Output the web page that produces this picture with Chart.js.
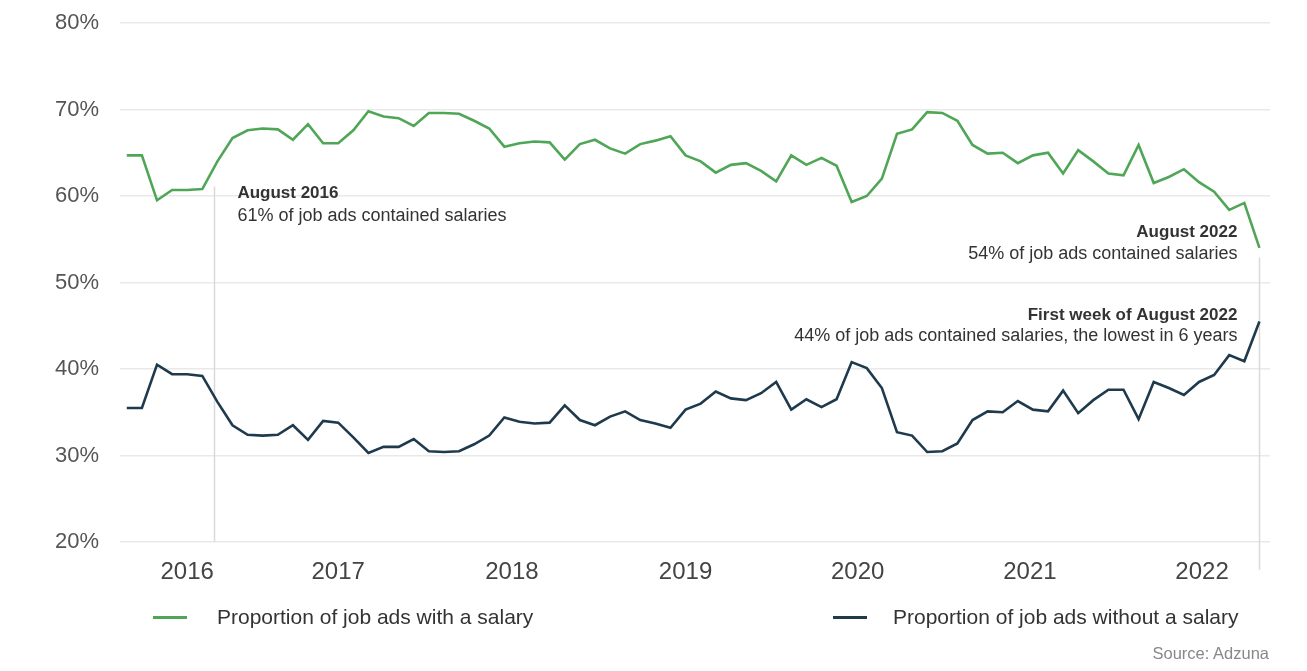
<!DOCTYPE html>
<html lang="en">
<head>
<meta charset="UTF-8">
<title>Job ads with and without a salary</title>
<script src="https://cdn.jsdelivr.net/npm/chart.js"></script>
<style>
  body { margin: 0; background: #fff; font-family: "Liberation Sans", Arial, sans-serif; }
  #wrap { position: relative; width: 1307px; height: 671px; }
  #salaryChart { position: absolute; left: 0; top: 0; }
  .swatch { position: absolute; top: 616px; width: 34px; height: 3px; }
  .legend-text { position: absolute; top: 605px; font-size: 21px; color: #333; white-space: nowrap; }
  #source { position: absolute; right: 38px; top: 644px; font-size: 16.5px; color: #888; }
</style>
</head>
<body>
<div id="wrap">
  <canvas id="salaryChart" width="1307" height="671"></canvas>
  <div class="swatch" style="left:153px; background:#4fa657;"></div>
  <div class="legend-text" style="left:217px;">Proportion of job ads with a salary</div>
  <div class="swatch" style="left:833px; background:#1f3a4c;"></div>
  <div class="legend-text" style="left:893px;">Proportion of job ads without a salary</div>
  <div id="source">Source: Adzuna</div>
</div>

<script>
  // monthly share of job ads, in percent
  const withSalary = [
    64.7, 64.7, 59.5, 60.7, 60.7, 60.8, 64.0, 66.7, 67.6, 67.8,
    67.7, 66.5, 68.3, 66.1, 66.1, 67.6, 69.8, 69.2, 69.0, 68.1,
    69.6, 69.6, 69.5, 68.7, 67.8, 65.7, 66.1, 66.3, 66.2, 64.2,
    66.0, 66.5, 65.5, 64.9, 66.0, 66.4, 66.9, 64.7, 64.0, 62.7,
    63.6, 63.8, 62.9, 61.7, 64.7, 63.6, 64.4, 63.5, 59.3, 60.0,
    62.0, 67.2, 67.7, 69.7, 69.6, 68.7, 65.9, 64.9, 65.0, 63.8,
    64.7, 65.0, 62.6, 65.3, 64.0, 62.6, 62.4, 65.9, 61.5, 62.2,
    63.1, 61.6, 60.5, 58.4, 59.2, 54.0
  ];
  const withoutSalary = [
    35.5, 35.5, 40.5, 39.4, 39.4, 39.2, 36.2, 33.5, 32.4, 32.3,
    32.4, 33.5, 31.8, 34.0, 33.8, 32.1, 30.3, 31.0, 31.0, 31.9,
    30.5, 30.4, 30.5, 31.3, 32.3, 34.4, 33.9, 33.7, 33.8, 35.8,
    34.1, 33.5, 34.5, 35.1, 34.1, 33.7, 33.2, 35.3, 36.0, 37.4,
    36.6, 36.4, 37.2, 38.5, 35.3, 36.5, 35.6, 36.5, 40.8, 40.1,
    37.8, 32.7, 32.3, 30.4, 30.5, 31.4, 34.1, 35.1, 35.0, 36.3,
    35.3, 35.1, 37.5, 34.9, 36.4, 37.6, 37.6, 34.2, 38.5, 37.8,
    37.0, 38.5, 39.3, 41.6, 40.9, 45.5
  ];

  // where each year label sits along the month index
  const yearTickPos = [4.0, 14.0, 25.5, 37.0, 48.4, 59.8, 71.2];
  const yearLabels = ['2016', '2017', '2018', '2019', '2020', '2021', '2022'];
  const percentTicks = [20, 30, 40, 50, 60, 70, 80];

  const GREEN = '#4fa657';
  const NAVY = '#1f3a4c';

  // callout lines and their notes
  const callouts = [
    { at: 5.8, from: 61.1, to: 20, side: 'right', lines: [
      { y: 60.35, bold: true, text: 'August 2016' },
      { y: 57.7, bold: false, text: '61% of job ads contained salaries' }
    ]},
    { at: 75, from: 52.9, to: 16.8, side: 'left', lines: [
      { y: 55.85, bold: true, text: 'August 2022' },
      { y: 53.3, bold: false, text: '54% of job ads contained salaries' },
      { y: 46.25, bold: true, text: 'First week of August 2022' },
      { y: 43.8, bold: false, text: '44% of job ads contained salaries, the lowest in 6 years' }
    ]}
  ];

  const calloutPlugin = {
    id: 'callouts',
    beforeDatasetsDraw(chart) {
      const { ctx, scales: { x, y } } = chart;
      ctx.save();
      ctx.strokeStyle = '#d9d9d9';
      ctx.lineWidth = 1.5;
      callouts.forEach(c => {
        const px = Math.round(x.getPixelForValue(c.at)) + 0.5;
        ctx.beginPath();
        ctx.moveTo(px, y.getPixelForValue(c.from));
        ctx.lineTo(px, y.getPixelForValue(c.to));
        ctx.stroke();
      });
      ctx.restore();
    },
    afterDatasetsDraw(chart) {
      const { ctx, scales: { x, y } } = chart;
      ctx.save();
      ctx.fillStyle = '#333';
      ctx.textBaseline = 'middle';
      callouts.forEach(c => {
        const px = x.getPixelForValue(c.at);
        ctx.textAlign = c.side === 'right' ? 'left' : 'right';
        const tx = c.side === 'right' ? px + 23 : px - 22;
        c.lines.forEach(l => {
          ctx.font = (l.bold ? 'bold 17px' : '18px') + ' "Liberation Sans", Arial, sans-serif';
          ctx.fillText(l.text, tx, y.getPixelForValue(l.y));
        });
      });
      ctx.restore();
    }
  };

  const toPoints = arr => arr.map((v, i) => ({ x: i, y: v }));

  new Chart(document.getElementById('salaryChart'), {
    type: 'line',
    data: {
      datasets: [
        { label: 'Proportion of job ads with a salary', data: toPoints(withSalary),
          borderColor: GREEN, borderWidth: 2.6, pointRadius: 0, tension: 0 },
        { label: 'Proportion of job ads without a salary', data: toPoints(withoutSalary),
          borderColor: NAVY, borderWidth: 2.6, pointRadius: 0, tension: 0 }
      ]
    },
    options: {
      responsive: false,
      animation: false,
      layout: { padding: { left: 55, right: 37, top: 23, bottom: 69 } },
      plugins: { legend: { display: false }, tooltip: { enabled: false } },
      scales: {
        x: {
          type: 'linear',
          min: -0.45,
          max: 75.7,
          grid: { display: false, drawTicks: false },
          border: { display: false },
          afterBuildTicks: s => { s.ticks = yearTickPos.map(v => ({ value: v })); },
          afterFit: s => { s.height = 60; },
          ticks: {
            autoSkip: false,
            maxRotation: 0,
            padding: 16,
            color: '#444',
            font: { family: '"Liberation Sans", Arial, sans-serif', size: 24 },
            callback: (v, i) => yearLabels[i]
          }
        },
        y: {
          min: 20,
          max: 80,
          grid: { color: '#e9e9e9', lineWidth: 1.5, drawTicks: false },
          border: { display: false },
          afterBuildTicks: s => { s.ticks = percentTicks.map(v => ({ value: v })); },
          afterFit: s => { s.width = 65; },
          ticks: {
            crossAlign: 'far',
            color: '#555',
            font: { family: '"Liberation Sans", Arial, sans-serif', size: 22 },
            callback: v => v + '%'
          }
        }
      }
    },
    plugins: [calloutPlugin]
  });
</script>
</body>
</html>
